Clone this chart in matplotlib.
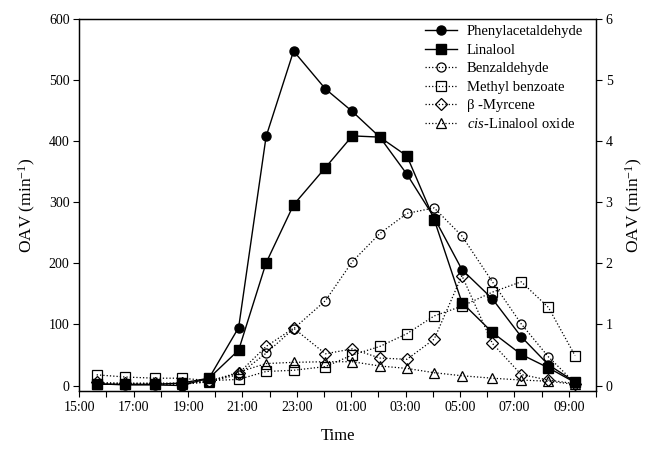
import matplotlib
matplotlib.use("Agg")
import matplotlib.pyplot as plt

plt.rcParams['font.family'] = ['Liberation Serif', 'DejaVu Serif']
plt.rcParams['mathtext.fontset'] = 'custom'
plt.rcParams['mathtext.rm'] = 'Liberation Serif'
plt.rcParams['mathtext.it'] = 'Liberation Serif:italic'

# sampling times (hours; after midnight = 24 + h)
times = [15.64, 16.68, 17.78, 18.76, 19.77, 20.86, 21.87, 22.88, 24.05, 25.04,
         26.05, 27.05, 28.05, 29.07, 30.19, 31.25, 32.25, 33.23]

# left axis (OAV)
phenylacetaldehyde = [3, 1, 1, 0, 12, 95, 408, 548, 486, 449, 407, 346, 275, 190, 142, 80, 34, 6]
linalool = [2, 2, 2, 4, 12, 58, 201, 296, 357, 409, 407, 376, 272, 136, 87, 51, 29, 5]

# right axis (OAV)
benzaldehyde = [0.03, 0.03, 0.03, 0.03, 0.06, 0.18, 0.53, 0.93, 1.39, 2.03, 2.49, 2.82, 2.91, 2.45, 1.70, 1.01, 0.47, 0.04]
methyl_benzoate = [0.175, 0.14, 0.12, 0.12, 0.08, 0.10, 0.23, 0.25, 0.31, 0.50, 0.64, 0.85, 1.14, 1.30, 1.53, 1.70, 1.28, 0.49]
myrcene = [0.05, 0.04, 0.04, 0.04, 0.08, 0.20, 0.64, 0.94, 0.52, 0.60, 0.45, 0.43, 0.76, 1.80, 0.69, 0.18, 0.09, 0.03]
linalool_oxide = [0.02, 0.02, 0.02, 0.02, 0.06, 0.22, 0.36, 0.38, 0.39, 0.39, 0.32, 0.28, 0.21, 0.16, 0.12, 0.09, 0.07, 0.02]

tick_hours = list(range(15, 35))
tick_labels = [f"{h % 24:02d}:00" if (h - 15) % 2 == 0 and h < 34 else "" for h in tick_hours]

fig = plt.figure(figsize=(6.53, 4.51), dpi=100)
ax = fig.add_axes([0.1214, 0.1330, 0.9127 - 0.1214, 0.9572 - 0.1330])
ax2 = ax.twinx()

ms = 6.5
l1, = ax.plot(times, phenylacetaldehyde, '-', color='black', lw=1.0, marker='o', ms=ms,
              mfc='black', mec='black', label='Phenylacetaldehyde')
l2, = ax.plot(times, linalool, '-', color='black', lw=1.0, marker='s', ms=ms,
              mfc='black', mec='black', label='Linalool')
l3, = ax2.plot(times, benzaldehyde, ':', color='black', lw=0.9, marker='o', ms=ms,
               mfc='none', mec='black', mew=0.9, label='Benzaldehyde')
l4, = ax2.plot(times, methyl_benzoate, ':', color='black', lw=0.9, marker='s', ms=ms,
               mfc='none', mec='black', mew=0.9, label='Methyl benzoate')
l5, = ax2.plot(times, myrcene, ':', color='black', lw=0.9, marker='D', ms=ms * 0.95,
               mfc='none', mec='black', mew=0.9, label='β -Myrcene')
l6, = ax2.plot(times, linalool_oxide, ':', color='black', lw=0.9, marker='^', ms=ms,
               mfc='none', mec='black', mew=0.9, label=r'$\it{cis}$-Linalool oxide')

ax.set_xlim(15, 34)
ax.set_ylim(-9, 600)
ax2.set_ylim(-0.09, 6)
ax.set_xticks(tick_hours)
ax.set_xticklabels(tick_labels)
ax.set_yticks(range(0, 601, 100))
ax2.set_yticks(range(0, 7))

for a in (ax, ax2):
    a.tick_params(direction='out', length=4, width=0.8, labelsize=10, pad=3)
    for s in a.spines.values():
        s.set_linewidth(0.9)

ax.set_xlabel('Time', fontsize=12, labelpad=10)
ax.set_ylabel('OAV (min$^{-1}$)', fontsize=12.5, labelpad=8)
ax2.set_ylabel('OAV (min$^{-1}$)', fontsize=12.5, labelpad=8)

leg = ax2.legend(handles=[l1, l2, l3, l4, l5, l6], loc='upper right',
                 bbox_to_anchor=(0.995, 1.012), frameon=False, fontsize=10.5,
                 handlelength=2.2, handletextpad=0.7, labelspacing=0.36,
                 borderaxespad=0.3)

fig.savefig('out.png', dpi=100)
